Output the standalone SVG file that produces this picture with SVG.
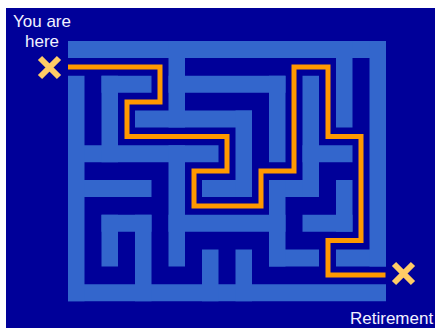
<svg xmlns="http://www.w3.org/2000/svg" width="435" height="328" viewBox="0 0 435 328">
<style>
.w{fill:#3366CC}
.route{fill:none;stroke:#FF9900;stroke-width:5;stroke-linejoin:miter}
.x{stroke:#FFCC66;stroke-width:6;stroke-linecap:butt}
.lbl{font-family:"Liberation Sans",Arial,sans-serif;font-size:17px;fill:#F2F2FF}
</style>
<rect x="0" y="0" width="435" height="328" fill="#FFFFFF"/>
<rect id="background" x="6" y="8" width="429" height="320" fill="#000099"/>
<g id="maze-walls">
<rect class="w" x="68" y="41" width="318" height="17"/>
<rect class="w" x="101.5" y="75.75" width="50" height="17"/>
<rect class="w" x="168.5" y="75.75" width="117" height="17"/>
<rect class="w" x="135" y="110.5" width="117" height="17"/>
<rect class="w" x="68" y="145.25" width="150.5" height="17"/>
<rect class="w" x="302.5" y="145.25" width="50" height="17"/>
<rect class="w" x="68" y="180" width="83.5" height="17"/>
<rect class="w" x="202" y="180" width="50" height="17"/>
<rect class="w" x="269" y="180" width="50" height="17"/>
<rect class="w" x="101.5" y="214.75" width="50" height="17"/>
<rect class="w" x="168.5" y="214.75" width="117" height="17"/>
<rect class="w" x="302.5" y="214.75" width="50" height="17"/>
<rect class="w" x="269" y="249.5" width="50" height="17"/>
<rect class="w" x="336" y="249.5" width="50" height="17"/>
<rect class="w" x="68" y="284.25" width="318" height="17"/>
<rect class="w" x="68" y="75.75" width="16.5" height="225.5"/>
<rect class="w" x="101.5" y="75.75" width="16.5" height="86.5"/>
<rect class="w" x="101.5" y="214.75" width="16.5" height="51.75"/>
<rect class="w" x="135" y="214.75" width="16.5" height="86.5"/>
<rect class="w" x="168.5" y="41" width="16.5" height="86.5"/>
<rect class="w" x="168.5" y="145.25" width="16.5" height="121.25"/>
<rect class="w" x="202" y="249.5" width="16.5" height="51.75"/>
<rect class="w" x="235.5" y="110.5" width="16.5" height="86.5"/>
<rect class="w" x="235.5" y="249.5" width="16.5" height="51.75"/>
<rect class="w" x="269" y="75.75" width="16.5" height="86.5"/>
<rect class="w" x="269" y="180" width="16.5" height="86.5"/>
<rect class="w" x="302.5" y="75.75" width="16.5" height="121.25"/>
<rect class="w" x="336" y="41" width="16.5" height="86.5"/>
<rect class="w" x="336" y="180" width="16.5" height="51.75"/>
<rect class="w" x="369.5" y="41" width="16.5" height="225.5"/>
</g>
<g id="connectors">
<path class="route" d="M68,67 H160 V102 H127 V136.5 H227 V171 H194 V206 H261 V171 H294 V67 H328 V136.5 H361 V240.5 H328 V275 H385.5"/>
</g>
<g id="start">
<path class="x" d="M40,58 L59,77 M59,58 L40,77"/>
<text class="lbl" x="42" y="26.5" text-anchor="middle">You are</text>
<text class="lbl" x="42" y="46.5" text-anchor="middle">here</text>
</g>
<g id="finish">
<path class="x" d="M394,264 L413,283 M413,264 L394,283"/>
<text class="lbl" x="350" y="324">Retirement</text>
</g>
</svg>
